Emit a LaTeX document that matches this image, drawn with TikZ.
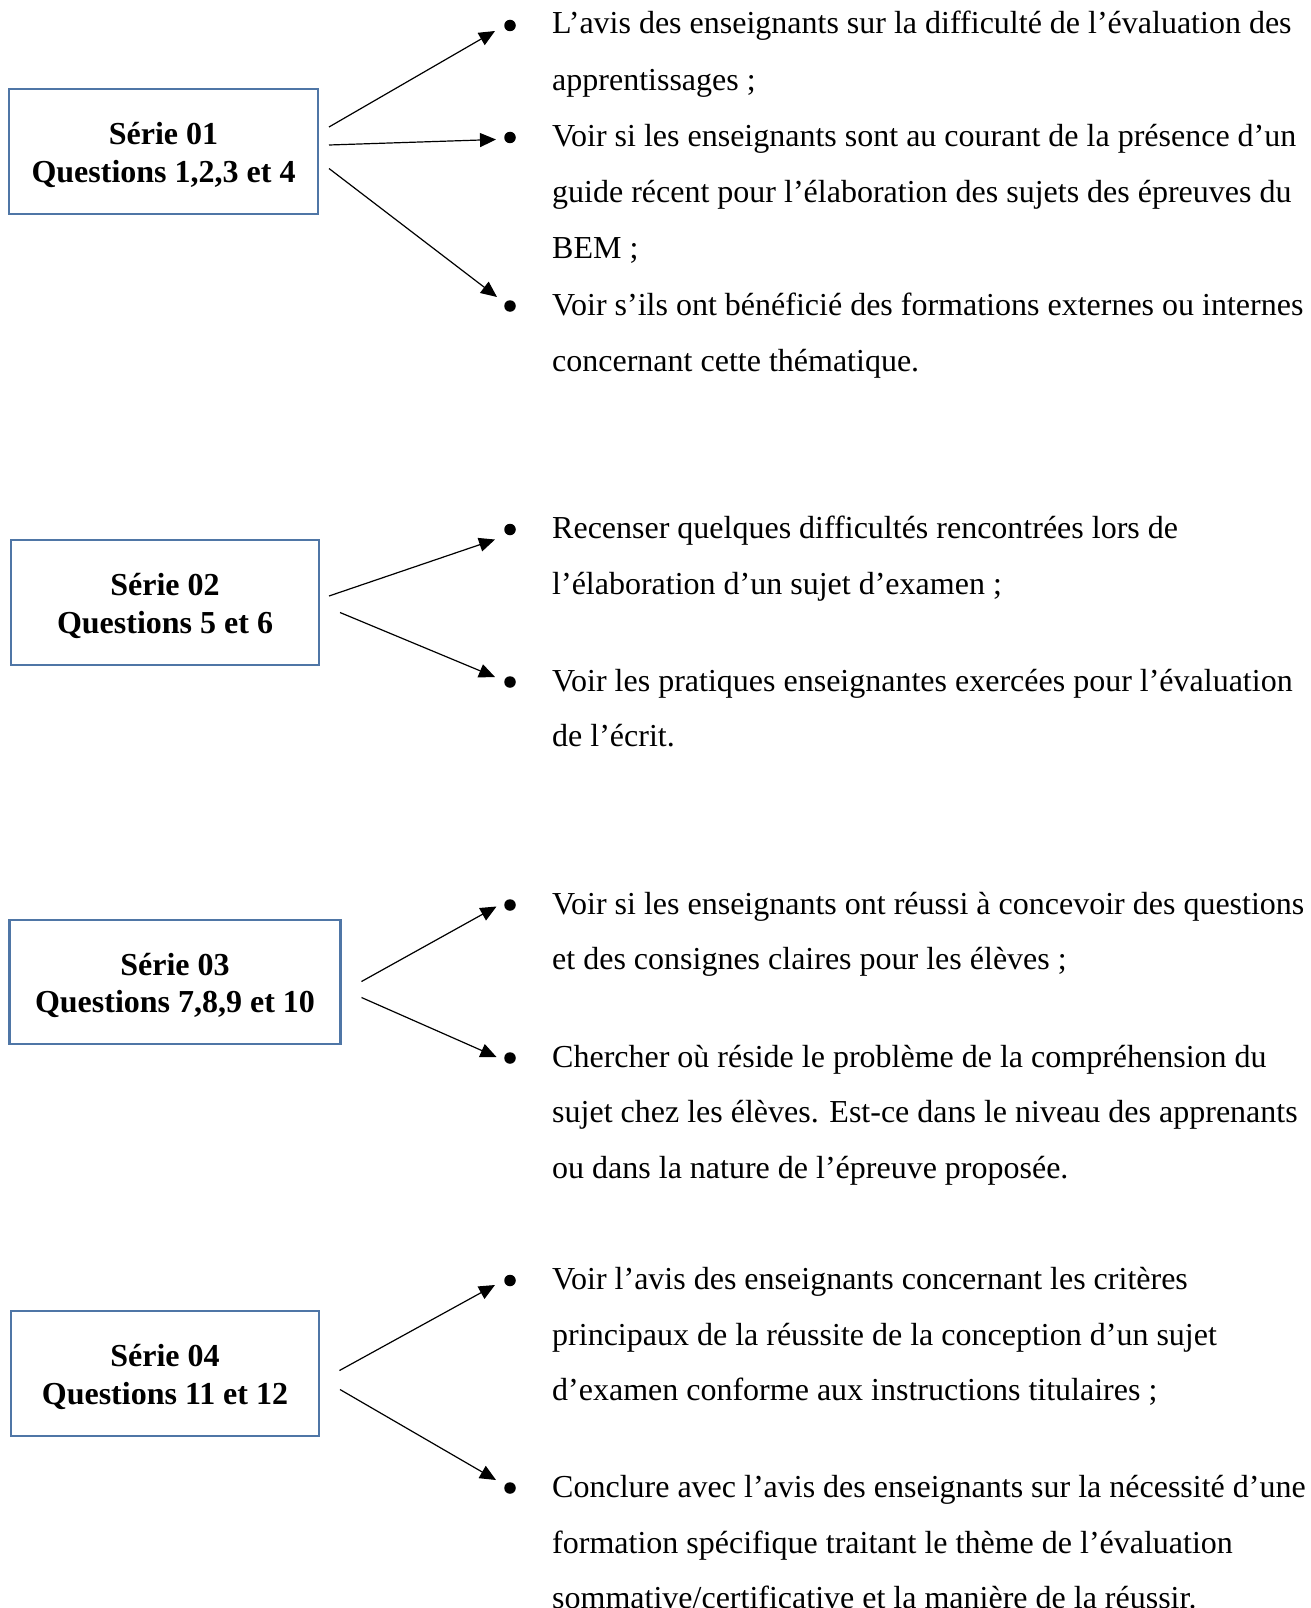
\documentclass[tikz,border=0pt]{standalone}
\usepackage{fontspec}
\setmainfont{Liberation Serif}
\usetikzlibrary{arrows.meta}
\definecolor{boxblue}{RGB}{79,118,166}
\begin{document}
\begin{tikzpicture}[x=1pt,y=-1pt,
  serie/.style={draw=boxblue,line width=2.5pt,inner sep=0pt,align=center,
    font=\bfseries\fontsize{32}{37.5}\selectfont},
  ln/.style={anchor=base west,inner sep=0pt,font=\fontsize{32}{38}\selectfont},
  puce/.style={circle,fill=black,inner sep=0pt,minimum size=11.5pt},
  fl/.style={line width=1.2pt,-{Triangle[length=16pt,width=14pt]}}]
\useasboundingbox (0,0) rectangle (1311,1608);
\fill[white] (0,0) rectangle (1311,1608);

% ---------- boxes ----------
\node[serie,minimum width=309pt,minimum height=125pt] (s1) at (163.5,151.5) {};
\node[serie,minimum width=308pt,minimum height=125pt] (s2) at (165,602.5) {};
\node[serie,minimum width=331pt,minimum height=124pt] (s3) at (175,982) {};
\node[serie,minimum width=308pt,minimum height=125pt] (s4) at (165,1373.5) {};
\node[serie,draw=none] (l1) at ([yshift=-3.5pt]s1.center) {Série 01\\Questions 1,2,3 et 4};
\node[serie,draw=none] (l2) at ([yshift=-3.5pt]s2.center) {Série 02\\Questions 5 et 6};
\node[serie,draw=none] (l3) at ([yshift=-3.5pt]s3.center) {Série 03\\Questions 7,8,9 et 10};
\node[serie,draw=none] (l4) at ([yshift=-3.5pt]s4.center) {Série 04\\Questions 11 et 12};

% ---------- group 1 ----------
\node[ln] (t1a) at (552,34) {L’avis des enseignants sur la difficulté de l’évaluation des};
\node[ln] (t1b) at (552,90.2) {apprentissages ;};
\node[ln] (t1c) at (552,146.4) {Voir si les enseignants sont au courant de la présence d’un};
\node[ln] (t1d) at (552,202.6) {guide récent pour l’élaboration des sujets des épreuves du};
\node[ln] (t1e) at (552,258.8) {BEM ;};
\node[ln] (t1f) at (552,315) {Voir s’ils ont bénéficié des formations externes ou internes};
\node[ln] (t1g) at (552,371.2) {concernant cette thématique.};
\node[puce] (p11) at (510,25.5) {};
\node[puce] (p12) at (510,137.5) {};
\node[puce] (p13) at (510,306) {};

% ---------- group 2 ----------
\node[ln] (t2a) at (552,538.5) {Recenser quelques difficultés rencontrées lors de};
\node[ln] (t2b) at (552,594.5) {l’élaboration d’un sujet d’examen ;};
\node[ln] (t2c) at (552,691) {Voir les pratiques enseignantes exercées pour l’évaluation};
\node[ln] (t2d) at (552,746.5) {de l’écrit.};
\node[puce] (p21) at (510,529.5) {};
\node[puce] (p22) at (510,682) {};

% ---------- group 3 ----------
\node[ln] (t3a) at (552,914) {Voir si les enseignants ont réussi à concevoir des questions};
\node[ln] (t3b) at (552,969.5) {et des consignes claires pour les élèves ;};
\node[ln] (t3c) at (552,1067) {Chercher où réside le problème de la compréhension du};
\node[ln] (t3d) at (552,1122.5) {sujet chez les élèves. Est-ce dans le niveau des apprenants};
\node[ln] (t3e) at (552,1178) {ou dans la nature de l’épreuve proposée.};
\node[puce] (p31) at (510,905) {};
\node[puce] (p32) at (510,1058) {};

% ---------- group 4 ----------
\node[ln] (t4a) at (552,1289.5) {Voir l’avis des enseignants concernant les critères};
\node[ln] (t4b) at (552,1345) {principaux de la réussite de la conception d’un sujet};
\node[ln] (t4c) at (552,1400.5) {d’examen conforme aux instructions titulaires ;};
\node[ln] (t4d) at (552,1497) {Conclure avec l’avis des enseignants sur la nécessité d’une};
\node[ln] (t4e) at (552,1553) {formation spécifique traitant le thème de l’évaluation};
\node[ln] (t4f) at (552,1608.5) {sommative/certificative et la manière de la réussir.};
\node[puce] (p41) at (510,1280.5) {};
\node[puce] (p42) at (510,1488) {};

% ---------- arrow end points ----------
\coordinate (a11) at (329,127);   \coordinate (e11) at (495,31);
\coordinate (a12) at (329,145);   \coordinate (e12) at (496,139.5);
\coordinate (a13) at (329,168.5); \coordinate (e13) at (497,297);
\coordinate (a21) at (329,596);   \coordinate (e21) at (495,539.5);
\coordinate (a22) at (340,612.5); \coordinate (e22) at (495,677);
\coordinate (a31) at (361.5,981.5); \coordinate (e31) at (496.5,906.5);
\coordinate (a32) at (361.5,997.5); \coordinate (e32) at (496.5,1057);
\coordinate (a41) at (339.5,1370.5); \coordinate (e41) at (495,1285);
\coordinate (a42) at (340,1389.5); \coordinate (e42) at (496,1480);

\draw[fl] (a11) -- (e11);
\draw[fl] (a12) -- (e12);
\draw[fl] (a13) -- (e13);
\draw[fl] (a21) -- (e21);
\draw[fl] (a22) -- (e22);
\draw[fl] (a31) -- (e31);
\draw[fl] (a32) -- (e32);
\draw[fl] (a41) -- (e41);
\draw[fl] (a42) -- (e42);
\end{tikzpicture}
\end{document}
